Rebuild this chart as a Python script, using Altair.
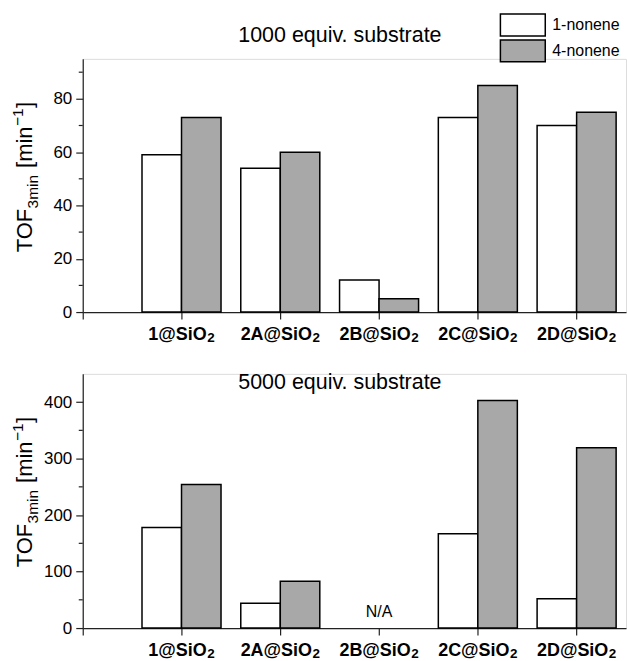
import altair as alt
import pandas as pd

# ---- data ----
catalysts = ["1@SiO2", "2A@SiO2", "2B@SiO2", "2C@SiO2", "2D@SiO2"]
positions = [1, 2, 3, 4, 5]
series_names = ["1-nonene", "4-nonene"]
series_colors = ["white", "#a8a8a8"]
tof_1000_1nonene = [59, 54, 12, 73, 70]
tof_1000_4nonene = [73, 60, 5, 85, 75]
tof_5000_1nonene = [178, 44, None, 167, 52]
tof_5000_4nonene = [254, 83, None, 403, 319]
y_ticks_1000 = [0, 20, 40, 60, 80]
y_minor_1000 = [10, 30, 50, 70, 90]
y_ticks_5000 = [0, 100, 200, 300, 400]
y_minor_5000 = [50, 150, 250, 350]
panel_titles = ["1000 equiv. substrate", "5000 equiv. substrate"]
missing_label = "N/A"
# y title pieces: (text, role, gap before in px)
y_title_parts = [("TOF", "main", 0), ("3min", "sub", 0), ("[min", "main", 7), ("\u22121", "sup", 0.5), ("]", "main", 0.5)]

FONT = "Liberation Sans"
AX = "#222222"
W = 545
XMAX = 5.5
PXU = W / XMAX

# Arial / Liberation Sans advance widths (1/1000 em) for text layout
REG = {"T": 611, "O": 778, "F": 611, "3": 556, "m": 833, "i": 222, "n": 556,
       " ": 278, "[": 278, "]": 278, "\u2212": 584, "1": 556}
BOLD = {"1": 556, "2": 556, "A": 722, "B": 722, "C": 722, "D": 722, "@": 975,
        "S": 667, "i": 278, "O": 778}


def tw(s, table, fs):
    return sum(table.get(ch, 556) for ch in s) * fs / 1000.0


LBL_FS, SUB_FS = 18, 13.5
lab_rows = []
for c, p in zip(catalysts, positions):
    main, sub = c[:-1], c[-1]
    wm, ws = tw(main, BOLD, LBL_FS), tw(sub, BOLD, SUB_FS) + 0.5
    tot = wm + ws
    lab_rows.append({"pos": p, "main": main, "sub": sub,
                     "xm": p - (tot / 2) / PXU, "xs": p + (wm - tot / 2 + 0.5) / PXU})
labels_df = pd.DataFrame(lab_rows)


def make_df(v1, v4):
    rows = []
    for c, p, a, b in zip(catalysts, positions, v1, v4):
        rows.append({"cat": c, "pos": p, "series": series_names[0], "value": a, "side": 0})
        rows.append({"cat": c, "pos": p, "series": series_names[1], "value": b, "side": 1})
    return pd.DataFrame(rows)


x_axis = alt.Axis(
    values=[0] + positions, labels=False, title=None, grid=False,
    tickSize=7, domainColor=AX, tickColor=AX, domainWidth=1.2, tickWidth=1.2,
)
x_scale = alt.Scale(domain=[0, XMAX], nice=False, zero=False)


def y_title_layers():
    MAIN_FS, SMALL_FS = 22, 15.5
    base = {"main": (-51, MAIN_FS), "sub": (-45, SMALL_FS), "sup": (-60, SMALL_FS)}
    out = []
    cum = 0.0
    for txt, role, gap in y_title_parts:
        xb, fs = base[role]
        cum += gap
        out.append(
            alt.Chart(pd.DataFrame({"t": [txt]}))
            .mark_text(font=FONT, fontSize=fs, color="black", angle=270, align="left",
                       baseline="alphabetic")
            .encode(text="t:N", x=alt.value(xb), y=alt.value(194 - cum))
        )
        cum += tw(txt, REG, fs)
    return out


def legend_layers():
    out = []
    for i, (name, col) in enumerate(zip(series_names, series_colors)):
        d = pd.DataFrame({"s": [name]})
        out.append(
            alt.Chart(d).mark_rect(fill=col, stroke="black", strokeWidth=1.5)
            .encode(x=alt.value(419), x2=alt.value(464),
                    y=alt.value(-45 + 26 * i), y2=alt.value(-23 + 26 * i))
        )
        out.append(
            alt.Chart(d).mark_text(font=FONT, fontSize=16, color="black", align="left",
                                   baseline="middle")
            .encode(text="s:N", x=alt.value(471), y=alt.value(-34 + 26 * i))
        )
    return out


def panel(v1, v4, ymax, ticks, minor, title, title_y, height, missing=False, legend=False):
    df = make_df(v1, v4)
    y_scale = alt.Scale(domain=[0, ymax], nice=False)
    y_axis = alt.Axis(
        values=ticks, title=None, grid=False, tickSize=7, labelPadding=4,
        labelFontSize=17, labelFont=FONT, labelColor="black",
        domainColor=AX, tickColor=AX, domainWidth=1.2, tickWidth=1.2,
    )
    bars = (
        alt.Chart(df)
        .transform_filter("isValid(datum.value)")
        .transform_calculate(x0="datum.pos - 0.4 + 0.4*datum.side", x1="datum.pos + 0.4*datum.side")
        .mark_bar(stroke="black", strokeWidth=1.5)
        .encode(
            x=alt.X("x0:Q", scale=x_scale, axis=x_axis),
            x2="x1:Q",
            y=alt.Y("value:Q", scale=y_scale, axis=y_axis),
            y2=alt.datum(0),
            fill=alt.Fill("series:N", scale=alt.Scale(domain=series_names, range=series_colors),
                          legend=None),
        )
    )
    minor_ticks = (
        alt.Chart(pd.DataFrame({"v": minor}))
        .mark_rule(color=AX, strokeWidth=1.2)
        .encode(y=alt.Y("v:Q"), x=alt.value(-4), x2=alt.value(0))
    )
    ttl = (
        alt.Chart(pd.DataFrame({"t": [title]}))
        .mark_text(font=FONT, fontSize=21.5, color="black", baseline="alphabetic", align="center")
        .encode(text="t:N", x=alt.value(258), y=alt.value(title_y))
    )
    lab_main = (
        alt.Chart(labels_df)
        .mark_text(font=FONT, fontSize=LBL_FS, fontWeight="bold", color="black",
                   align="left", baseline="alphabetic")
        .encode(x=alt.X("xm:Q"), y=alt.value(height + 28), text="main:N")
    )
    lab_sub = (
        alt.Chart(labels_df)
        .mark_text(font=FONT, fontSize=SUB_FS, fontWeight="bold", color="black",
                   align="left", baseline="alphabetic")
        .encode(x=alt.X("xs:Q"), y=alt.value(height + 30.5), text="sub:N")
    )
    layers = [bars, minor_ticks, ttl, lab_main, lab_sub] + y_title_layers()
    if missing:
        na = (
            alt.Chart(df)
            .transform_filter("!isValid(datum.value) && datum.side == 0")
            .transform_calculate(lbl="'" + missing_label + "'")
            .mark_text(font=FONT, fontSize=16, color="black", baseline="alphabetic", dy=-11)
            .encode(x=alt.X("pos:Q"), y=alt.datum(0), text="lbl:N")
        )
        layers.append(na)
    if legend:
        layers += legend_layers()
    return alt.layer(*layers).properties(width=W, height=height)


top = panel(tof_1000_1nonene, tof_1000_4nonene, 95, y_ticks_1000, y_minor_1000,
            panel_titles[0], -17, 254, legend=True)
bottom = panel(tof_5000_1nonene, tof_5000_4nonene, 450, y_ticks_5000, y_minor_5000,
               panel_titles[1], 15, 255, missing=True)

chart = (
    alt.vconcat(top, bottom, spacing=25)
    .properties(padding={"left": 10, "top": 11, "right": 0, "bottom": 0})
    .configure_view(stroke=None)
    .configure(background="white")
)

chart.save("out.html", embed_options={"renderer": "svg", "actions": False})
